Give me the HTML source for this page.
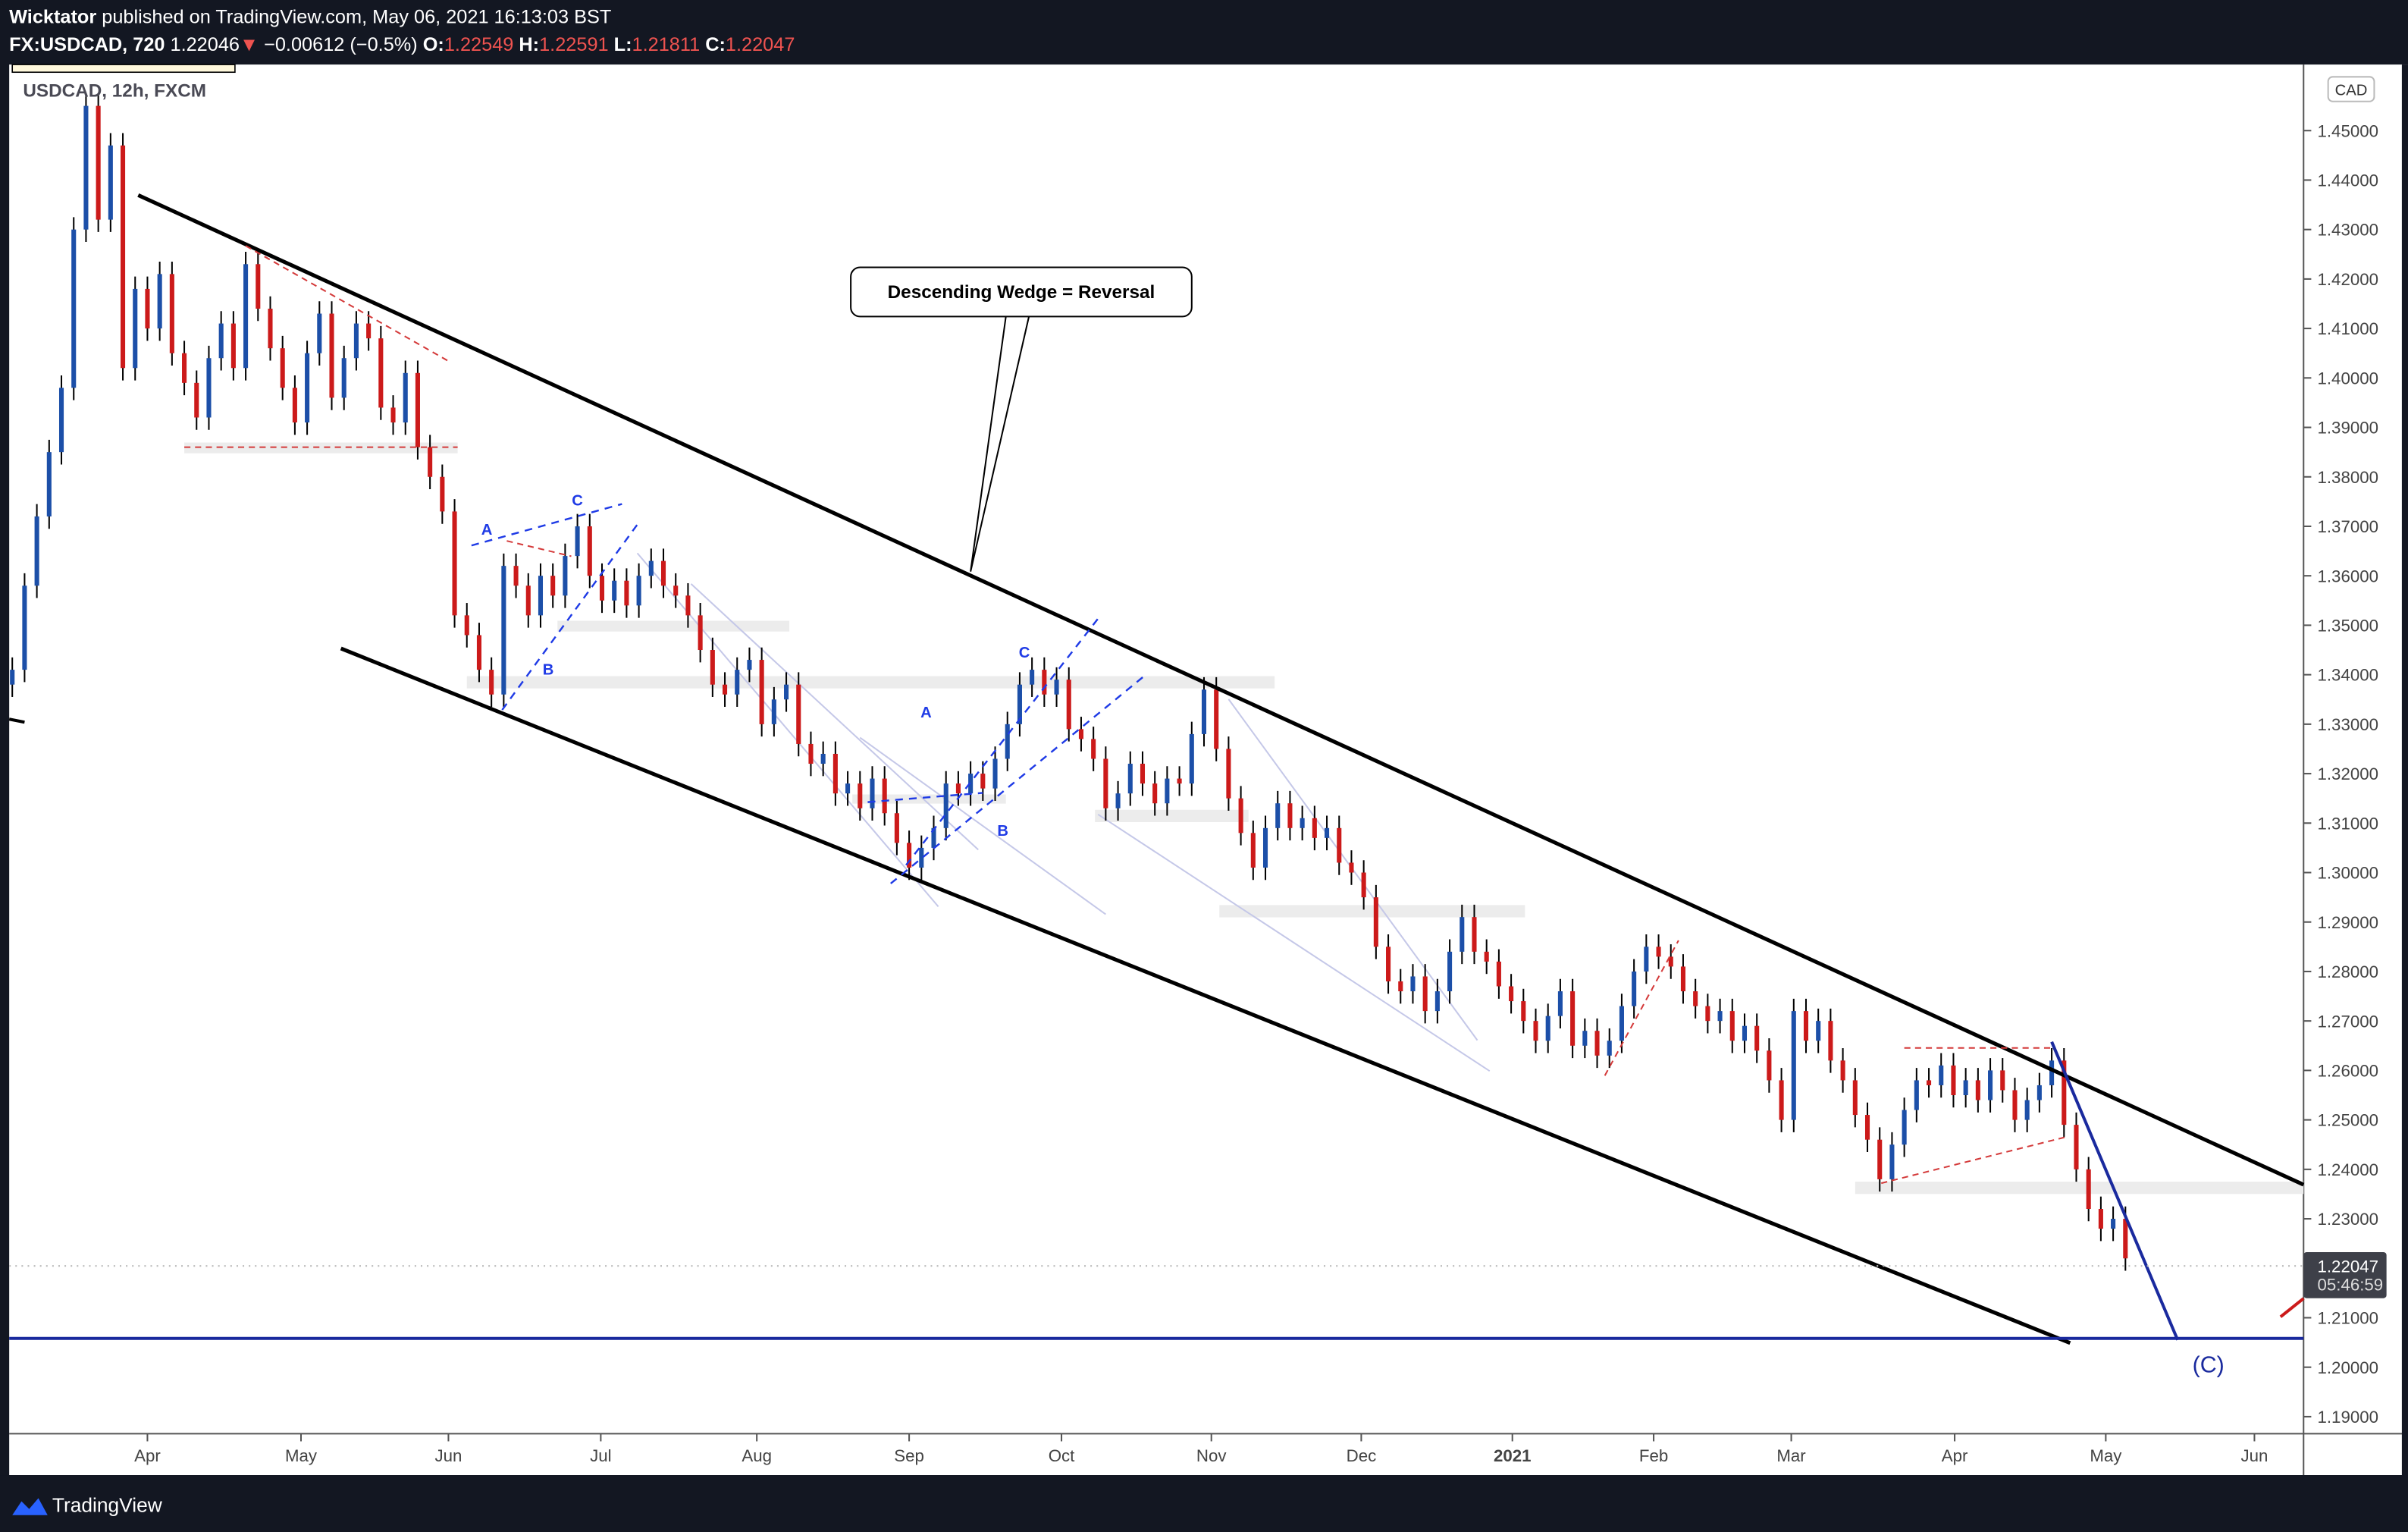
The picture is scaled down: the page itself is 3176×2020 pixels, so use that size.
<!DOCTYPE html>
<html><head><meta charset="utf-8"><style>
html,body{margin:0;padding:0;background:#131722;}
svg{display:block}
text{font-family:"Liberation Sans","DejaVu Sans",sans-serif}
</style></head><body>
<svg id="chart" width="3176" height="2020" viewBox="0 0 1568 997" preserveAspectRatio="none" xmlns="http://www.w3.org/2000/svg">
<rect x="0" y="0" width="1568" height="997" fill="#131722"/>
<text x="6" y="15" font-size="12.5" fill="#fff"><tspan font-weight="bold">Wicktator</tspan> published on TradingView.com, May 06, 2021 16:13:03 BST</text>
<text x="6" y="33" font-size="12.5" fill="#fff"><tspan font-weight="bold">FX:USDCAD, 720</tspan> 1.22046<tspan fill="#ef5350">▼</tspan> −0.00612 (−0.5%) <tspan font-weight="bold">O:</tspan><tspan fill="#ef5350">1.22549</tspan> <tspan font-weight="bold">H:</tspan><tspan fill="#ef5350">1.22591</tspan> <tspan font-weight="bold">L:</tspan><tspan fill="#ef5350">1.21811</tspan> <tspan font-weight="bold">C:</tspan><tspan fill="#ef5350">1.22047</tspan></text>
<rect x="6" y="42" width="1562" height="918" fill="#fff"/>
<rect x="8" y="42" width="145" height="5" fill="#fff8dc" stroke="#000" stroke-width="0.8"/>
<line x1="1500" y1="42" x2="1500" y2="960" stroke="#555" stroke-width="1"/>
<line x1="6" y1="933" x2="1568" y2="933" stroke="#555" stroke-width="1"/>
<rect x="1564" y="42" width="4" height="918" fill="#131722"/>
<g id="bands"></g>
<g id="annot-under"></g>
<g id="candles"></g>
<g id="annot"></g>
<g id="yaxis"></g>
<g id="xaxis"></g>
<text x="15" y="63" font-size="12" font-weight="bold" fill="#4a4a55">USDCAD, 12h, FXCM</text>
<rect x="1516" y="50" width="30" height="16" rx="3" fill="#fff" stroke="#bbb"/>
<text x="1531" y="62" font-size="10" fill="#333" text-anchor="middle">CAD</text>
<rect x="0" y="960" width="1568" height="37" fill="#131722"/>
<path d="M8 986 l6 -9 l5 5 l6 -7 l6 11 z" fill="#2962ff"/>
<text x="34" y="984" font-size="13" fill="#fff">TradingView</text>
</svg>
<script>
const closes=[1.341,1.358,1.372,1.385,1.398,1.430,1.455,1.432,1.447,1.402,1.418,1.410,1.421,1.405,1.399,1.392,1.404,1.411,1.402,1.423,1.414,1.406,1.398,1.391,1.405,1.413,1.396,1.404,1.411,1.408,1.394,1.391,1.401,1.386,1.380,1.373,1.352,1.348,1.341,1.336,1.362,1.358,1.352,1.360,1.356,1.364,1.370,1.360,1.355,1.359,1.354,1.360,1.363,1.358,1.356,1.352,1.345,1.338,1.336,1.341,1.343,1.330,1.335,1.338,1.326,1.322,1.324,1.316,1.318,1.313,1.319,1.312,1.306,1.301,1.305,1.309,1.318,1.316,1.320,1.317,1.323,1.330,1.338,1.341,1.336,1.339,1.329,1.327,1.323,1.313,1.316,1.322,1.318,1.314,1.319,1.318,1.328,1.337,1.325,1.315,1.308,1.301,1.309,1.314,1.309,1.311,1.307,1.309,1.302,1.300,1.295,1.285,1.278,1.276,1.279,1.272,1.276,1.284,1.291,1.284,1.282,1.277,1.274,1.270,1.266,1.271,1.276,1.265,1.268,1.263,1.266,1.273,1.280,1.285,1.283,1.281,1.276,1.273,1.270,1.272,1.266,1.269,1.264,1.258,1.250,1.272,1.266,1.270,1.262,1.258,1.251,1.246,1.238,1.245,1.252,1.258,1.257,1.261,1.255,1.258,1.254,1.260,1.256,1.250,1.254,1.257,1.262,1.249,1.240,1.232,1.228,1.230,1.222];
const yTicks=[1.45,1.44,1.43,1.42,1.41,1.40,1.39,1.38,1.37,1.36,1.35,1.34,1.33,1.32,1.31,1.30,1.29,1.28,1.27,1.26,1.25,1.24,1.23,1.21,1.20,1.19];
const monthLabels=["Apr","May","Jun","Jul","Aug","Sep","Oct","Nov","Dec","2021","Feb","Mar","Apr","May","Jun"];
const monthIndex=[11,23.5,35.5,47.9,60.6,73,85.4,97.6,109.8,122.1,133.6,144.8,158.1,170.4,182.5];
const NS="http://www.w3.org/2000/svg";
function y(p){return 85+(1.45-p)*3219;}
function xi(i){return 8+i*8;}
function mk(tag,attrs,parent){const e=document.createElementNS(NS,tag);for(const k in attrs)e.setAttribute(k,attrs[k]);parent.appendChild(e);return e;}
const cg=document.getElementById('candles');
for(let i=0;i<closes.length;i++){
  const c=closes[i],o=i?closes[i-1]:c-0.003;
  const up=c>=o,col=up?'#1c4fa8':'#cc1a1a';
  const hi=Math.max(o,c)+0.0025,lo=Math.min(o,c)-0.0025;
  const w=mk('line',{x1:xi(i),x2:xi(i),y1:y(hi),y2:y(lo),stroke:'#000','stroke-width':1},cg);
  
  
  const b=mk('rect',{x:xi(i)-1.5,width:3,y:y(Math.max(o,c)),height:Math.max(1,y(Math.min(o,c))-y(Math.max(o,c))),fill:col},cg);
  
  
}
const ya=document.getElementById('yaxis');
yTicks.forEach(p=>{
  mk('line',{x1:1500,x2:1505,y1:y(p),y2:y(p),stroke:'#555'},ya);
  const t=mk('text',{x:1509,y:y(p)+4,'font-size':11,fill:'#444'},ya);t.textContent=p.toFixed(5);
  
  
});
const xa=document.getElementById('xaxis');
monthLabels.forEach((m,i)=>{
  const x=xi(monthIndex[i]);
  mk('line',{x1:x,x2:x,y1:933,y2:938,stroke:'#555'},xa);
  const t=mk('text',{x:x,y:951,'font-size':11,fill:'#444','text-anchor':'middle','font-weight':m==='2021'?'bold':'normal'},xa);t.textContent=m;
  
  
});
mk('line',{x1:6,x2:1500,y1:y(1.22047),y2:y(1.22047),stroke:'#bbb','stroke-dasharray':'1 3'},ya);
const pb=mk('rect',{x:1500,y:y(1.22047)-9,width:54,height:30,rx:2,fill:'#3e4049'},ya);


const t1=mk('text',{x:1509,y:y(1.22047)+4,'font-size':11,fill:'#fff'},ya);t1.textContent='1.22047';
const t2=mk('text',{x:1509,y:y(1.22047)+16,'font-size':11,fill:'#ddd'},ya);t2.textContent='05:46:59';
const bg=document.getElementById('bands');
[[120,288,178,7],[304,440,526,8],[363,404,151,7],[713,527,100,8],[794,589,199,8],[1208,769,292,8],[555,517,100,6]].forEach(b=>{
  const r=mk('rect',{x:b[0],y:b[1],width:b[2],height:b[3],fill:'#ececec'},bg);
  
  
});
const au=document.getElementById('annot-under');
[[415,360,611,590],[450,380,637,553],[800,455,962,677],[715,530,970,697],[560,480,720,595]].forEach(l=>{
  const e=mk('line',{x1:l[0],y1:l[1],x2:l[2],y2:l[3],stroke:'#c5c8e8','stroke-width':1},au);
  
  
});
const an=document.getElementById('annot');
function L(a,st,w,dash,name){const e=mk('line',{x1:a[0],y1:a[1],x2:a[2],y2:a[3],stroke:st,'stroke-width':w},an);if(dash)e.setAttribute('stroke-dasharray',dash);}
L([90,127,1500,771],'#000',2.5,null,'wedge-upper-line');
L([222,422,1348,874],'#000',2.5,null,'wedge-lower-line');
L([6,468,16,470],'#000',2,null,'edge-line');
L([6,871,1500,871],'#1a2a9e',2,null,'target-level-line');
L([1336,678,1418,872],'#1a2a9e',2,null,'projection-line');
L([1485,857,1500,845],'#cc1a1a',2,null,'red-marker');
[[160,160,292,235],[120,291,298,291],[1240,682,1336,682],[1225,770,1345,740],[330,352,372,362],[1045,700,1093,612]].forEach(l=>L(l,'#d43a3a',1,'4 3','red-dashed-trendline'));
[[307,355,405,328],[327,462,416,340],[580,575,745,440],[590,563,717,400],[565,522,640,516]].forEach(l=>L(l,'#1f3be6',1.2,'5 4','blue-dashed-trendline'));
[['A',317,348],['C',376,329],['B',357,439],['A',603,467],['B',653,544],['C',667,428]].forEach(a=>{
  const t=mk('text',{x:a[1],y:a[2],'font-size':10,'font-weight':'bold',fill:'#1f3be6','text-anchor':'middle'},an);t.textContent=a[0];
  
  
});
const c=mk('text',{x:1438,y:893,'font-size':15,fill:'#1a2a9e','text-anchor':'middle'},an);c.textContent='(C)';


const cp=mk('path',{d:'M655 206 L632 372 L670 206',fill:'none',stroke:'#000','stroke-width':1},an);


const cb=mk('rect',{x:554,y:174,width:222,height:32,rx:6,fill:'#fff',stroke:'#000','stroke-width':1},an);


const ct=mk('text',{x:665,y:194,'font-size':12,'font-weight':'bold',fill:'#000','text-anchor':'middle'},an);ct.textContent='Descending Wedge = Reversal';


</script>
</body></html>
